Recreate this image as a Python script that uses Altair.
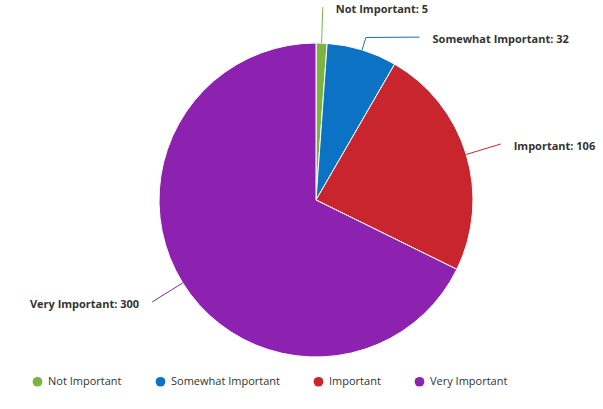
import altair as alt
import pandas as pd

categories = ["Not Important", "Somewhat Important", "Important", "Very Important"]
values = [5, 32, 106, 300]
colors = ["#7cb342", "#0b72c4", "#c9252f", "#8e22b0"]

df = pd.DataFrame({"category": categories, "value": values, "order": list(range(len(categories)))})

R = 157      # pie radius (px)
RB = 170     # connector bend radius
RL = 193     # label anchor radius
GAP = 30     # minimal vertical gap between labels on the same side
FONT = "Open Sans"

base = (
    alt.Chart(df)
    .transform_joinaggregate(total="sum(value)")
    .transform_window(cum="sum(value)", sort=[alt.SortField("order")], frame=[None, 0])
    .transform_calculate(mid="2*PI*(datum.cum - datum.value/2)/datum.total")
    .transform_calculate(
        side="sin(datum.mid) >= 0 ? 1 : -1",
        nat=f"-{RL}*cos(datum.mid)",
        ex=f"{R}*sin(datum.mid)",
        ey=f"-{R}*cos(datum.mid)",
        bx=f"{RB}*sin(datum.mid)",
        by=f"-{RB}*cos(datum.mid)",
        label="datum.category + ': ' + datum.value",
    )
    .transform_window(prev="lag(nat)", prevside="lag(side)", sort=[alt.SortField("order")])
    .transform_calculate(
        ly=f"(datum.prev != null && datum.prevside == datum.side && datum.nat < datum.prev + {GAP}) ? datum.prev + {GAP} : datum.nat"
    )
    .transform_calculate(lx=f"datum.side*sqrt({RL}*{RL} - datum.ly*datum.ly)")
    .transform_calculate(tx="datum.lx + datum.side*13", ty="datum.ly + 3")
)

xs = alt.Scale(domain=[-R, R], nice=False, zero=False)
ys = alt.Scale(domain=[-R, R], nice=False, zero=False, reverse=True)
cscale = alt.Scale(domain=categories, range=colors)
color = alt.Color("category:N", scale=cscale, sort=categories,
                  legend=alt.Legend(title=None, symbolType="circle"))

arc = base.mark_arc(outerRadius=R, stroke="white", strokeWidth=1).encode(
    theta=alt.Theta("value:Q", stack=True),
    color=color,
    order=alt.Order("order:Q"),
)

seg1 = base.mark_rule(strokeWidth=1).encode(
    x=alt.X("ex:Q", scale=xs, axis=None),
    y=alt.Y("ey:Q", scale=ys, axis=None),
    x2="bx:Q",
    y2="by:Q",
    color=color,
)
seg2 = base.mark_rule(strokeWidth=1).encode(
    x=alt.X("bx:Q", scale=xs, axis=None),
    y=alt.Y("by:Q", scale=ys, axis=None),
    x2="lx:Q",
    y2="ly:Q",
    color=color,
)

txt_kw = dict(baseline="middle", font=FONT, fontSize=11, fontWeight="bold", color="#333333")
right_txt = base.transform_filter("datum.side > 0").mark_text(align="left", **txt_kw).encode(
    x=alt.X("tx:Q", scale=xs, axis=None),
    y=alt.Y("ty:Q", scale=ys, axis=None),
    text="label:N",
)
left_txt = base.transform_filter("datum.side < 0").mark_text(align="right", **txt_kw).encode(
    x=alt.X("tx:Q", scale=xs, axis=None),
    y=alt.Y("ty:Q", scale=ys, axis=None),
    text="label:N",
)

chart = (
    alt.layer(arc, seg1, seg2, right_txt, left_txt)
    .properties(
        width=2 * R,
        height=2 * R,
        autosize=alt.AutoSizeParams(type="none"),
        padding={"left": 159, "top": 43, "right": 130, "bottom": 52},
        background="white",
    )
    .configure_view(stroke=None)
    .configure_legend(
        orient="none",
        direction="horizontal",
        legendX=-127,
        legendY=333,
        symbolSize=95,
        symbolStrokeWidth=0,
        labelFont=FONT,
        labelFontSize=11,
        labelFontWeight="normal",
        labelColor="#333333",
        labelOffset=5,
        columnPadding=33,
        padding=0,
    )
)

chart.save("out.html", embed_options={"renderer": "svg", "actions": False})
